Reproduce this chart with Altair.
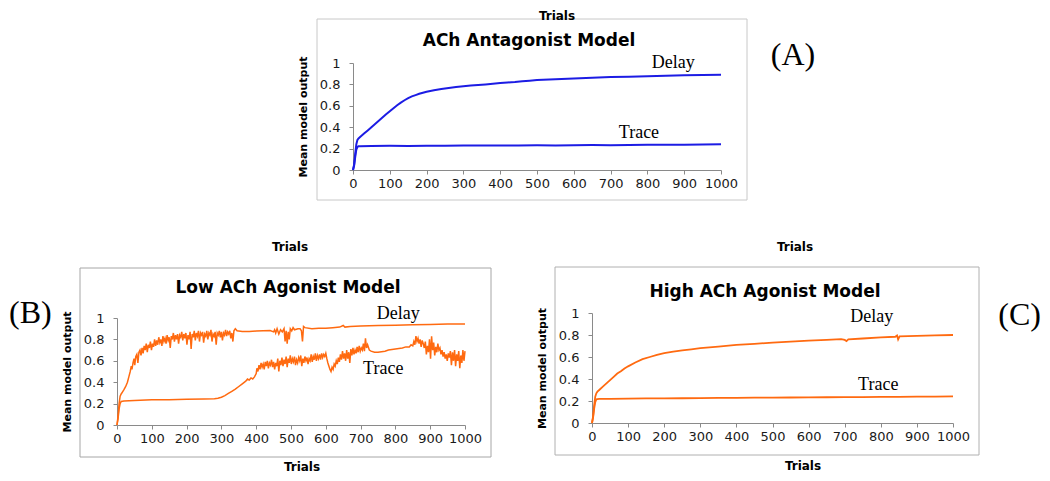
import altair as alt
import pandas as pd

W, H = 1034, 465

# ---------------- data (trial, mean model output) ----------------
a_delay = [(0,0.0),(3,0.05),(6,0.15),(9,0.24),(12,0.28),(15,0.295),(20,0.31),(30,0.34),(40,0.37),
           (50,0.40),(60,0.43),(70,0.46),(80,0.49),(90,0.52),(100,0.55),(110,0.578),(120,0.605),
           (130,0.63),(140,0.652),(150,0.672),(160,0.688),(170,0.70),(180,0.712),(190,0.722),
           (200,0.732),(220,0.746),(240,0.757),(260,0.766),(280,0.775),(300,0.782),(320,0.789),
           (340,0.795),(360,0.80),(380,0.806),(400,0.812),(420,0.818),(440,0.823),(460,0.83),
           (480,0.835),(500,0.84),(550,0.848),(600,0.855),(650,0.862),(700,0.868),(750,0.872),
           (800,0.877),(850,0.881),(900,0.885),(950,0.888),(1000,0.89)]
a_trace = [(0,0.0),(3,0.04),(6,0.12),(9,0.19),(12,0.215),(15,0.222),(20,0.223),(50,0.224),
           (100,0.226),(150,0.225),(200,0.227),(250,0.226),(300,0.228),(350,0.229),(400,0.228),
           (450,0.230),(500,0.231),(550,0.230),(600,0.232),(650,0.233),(700,0.232),(750,0.234),
           (800,0.235),(850,0.236),(900,0.237),(950,0.238),(1000,0.240)]

b_delay = [(0,0.0),(3,0.08),(6,0.2),(9,0.27),(12,0.29),(16,0.31),(20,0.33),(25,0.36),(30,0.40),
           (34,0.45),(38,0.50),(41,0.55),(43,0.52),(46,0.58),(49,0.62),(51,0.56),(54,0.64),(57,0.66),
           (60,0.58),(63,0.68),(66,0.70),(69,0.65),(72,0.72),(75,0.67),(78,0.74),(81,0.70),(84,0.76),
           (87,0.68),(90,0.75),(93,0.72),(96,0.78),(99,0.70),(102,0.76),(105,0.73),(108,0.80),
           (111,0.74),(114,0.79),(117,0.75),(120,0.82),(123,0.77),(126,0.80),(129,0.74),(132,0.83),
           (135,0.78),(138,0.81),(141,0.76),(144,0.84),(147,0.79),(150,0.82),(153,0.72),(156,0.83),
           (159,0.80),(162,0.86),(165,0.78),(168,0.84),(171,0.80),(174,0.85),(177,0.76),(180,0.84),
           (183,0.82),(186,0.87),(189,0.79),(192,0.85),(195,0.81),(198,0.86),(201,0.75),(204,0.84),
           (207,0.80),(210,0.87),(213,0.71),(216,0.85),(219,0.82),(222,0.88),(225,0.79),(228,0.86),
           (231,0.83),(234,0.88),(237,0.78),(240,0.86),(243,0.84),(246,0.87),(249,0.77),(252,0.85),
           (255,0.83),(258,0.88),(261,0.80),(264,0.86),(267,0.84),(270,0.89),(273,0.78),(276,0.85),
           (279,0.83),(282,0.87),(285,0.75),(288,0.86),(291,0.84),(294,0.88),(297,0.82),(300,0.87),
           (303,0.79),(306,0.86),(309,0.84),(312,0.89),(315,0.83),(318,0.87),(321,0.85),(324,0.88),
           (327,0.81),(330,0.86),(333,0.78),(336,0.88),(340,0.90),(345,0.88),(360,0.875),(380,0.875),
           (400,0.878),(420,0.88),(440,0.882),(450,0.87),(453,0.89),(456,0.86),(460,0.90),(465,0.85),
           (470,0.89),(475,0.87),(480,0.90),(483,0.78),(486,0.88),(489,0.76),(492,0.87),(495,0.80),
           (498,0.90),(502,0.88),(506,0.91),(510,0.89),(520,0.90),(526,0.90),(530,0.88),(533,0.78),
           (536,0.92),(540,0.91),(560,0.90),(580,0.905),(600,0.905),(620,0.91),(640,0.915),(650,0.93),
           (655,0.915),(670,0.92),(700,0.925),(750,0.93),(800,0.933),(850,0.937),(900,0.94),
           (950,0.943),(1000,0.945)]
b_trace = [(0,0.0),(3,0.06),(6,0.15),(9,0.20),(12,0.22),(20,0.225),(50,0.23),(100,0.235),(150,0.237),
           (200,0.24),(250,0.242),(280,0.245),(290,0.25),(300,0.26),(310,0.275),(320,0.295),(330,0.315),
           (340,0.335),(350,0.36),(360,0.385),(370,0.41),(375,0.43),(380,0.42),(385,0.44),(390,0.43),
           (395,0.45),(400,0.48),(402,0.53),(405,0.50),(408,0.56),(411,0.52),(414,0.58),(417,0.54),
           (420,0.57),(423,0.52),(426,0.59),(429,0.55),(432,0.60),(435,0.53),(438,0.58),(441,0.56),
           (444,0.61),(447,0.54),(450,0.59),(453,0.52),(456,0.58),(459,0.55),(462,0.62),(465,0.50),
           (468,0.60),(471,0.56),(474,0.63),(477,0.55),(480,0.61),(483,0.57),(486,0.64),(489,0.54),
           (492,0.62),(495,0.58),(498,0.65),(501,0.57),(504,0.62),(507,0.59),(510,0.64),(513,0.56),
           (516,0.61),(519,0.58),(522,0.63),(525,0.60),(528,0.65),(531,0.55),(534,0.62),(537,0.58),
           (540,0.64),(543,0.60),(546,0.63),(549,0.57),(552,0.62),(555,0.60),(558,0.66),(561,0.59),
           (564,0.64),(567,0.61),(570,0.67),(573,0.60),(576,0.65),(579,0.62),(582,0.66),(585,0.61),
           (588,0.67),(591,0.63),(594,0.66),(597,0.64),(600,0.67),(603,0.62),(606,0.58),(609,0.55),
           (612,0.52),(615,0.50),(618,0.54),(621,0.52),(624,0.57),(627,0.55),(630,0.60),(633,0.57),
           (636,0.63),(639,0.59),(642,0.66),(645,0.61),(648,0.69),(651,0.62),(654,0.67),(657,0.60),
           (660,0.70),(663,0.62),(666,0.68),(669,0.58),(672,0.71),(675,0.65),(678,0.72),(681,0.66),
           (684,0.70),(687,0.67),(690,0.73),(693,0.68),(696,0.74),(699,0.69),(702,0.72),(705,0.70),
           (708,0.76),(711,0.69),(714,0.81),(717,0.72),(720,0.75),(725,0.70),(730,0.69),(740,0.68),
           (750,0.68),(760,0.685),(770,0.69),(780,0.70),(790,0.705),(800,0.71),(810,0.715),(820,0.72),
           (830,0.73),(840,0.73),(845,0.75),(850,0.74),(853,0.78),(856,0.75),(859,0.83),(862,0.78),
           (865,0.81),(868,0.76),(871,0.80),(874,0.73),(877,0.79),(880,0.76),(883,0.72),(886,0.78),
           (889,0.66),(892,0.74),(895,0.68),(898,0.80),(901,0.62),(904,0.83),(907,0.70),(910,0.77),
           (913,0.65),(916,0.73),(919,0.68),(922,0.76),(925,0.70),(928,0.72),(931,0.66),(934,0.70),
           (937,0.64),(940,0.68),(943,0.62),(946,0.66),(949,0.60),(952,0.67),(955,0.63),(958,0.69),
           (961,0.56),(964,0.68),(967,0.60),(970,0.70),(973,0.55),(976,0.66),(979,0.60),(982,0.69),
           (985,0.53),(988,0.65),(991,0.58),(994,0.70),(997,0.60),(1000,0.69)]

c_delay = [(0,0.0),(3,0.06),(6,0.16),(9,0.24),(12,0.27),(15,0.285),(20,0.30),(30,0.33),(40,0.36),
           (50,0.39),(60,0.42),(70,0.45),(80,0.47),(90,0.495),(100,0.515),(120,0.55),(140,0.58),
           (160,0.60),(180,0.62),(200,0.635),(225,0.648),(250,0.66),(275,0.67),(300,0.68),(350,0.695),
           (400,0.71),(450,0.72),(500,0.73),(550,0.74),(600,0.748),(650,0.756),(690,0.762),(700,0.755),
           (705,0.745),(710,0.76),(750,0.768),(800,0.778),(840,0.784),(845,0.795),(848,0.76),
           (852,0.787),(900,0.792),(950,0.797),(1000,0.80)]
c_trace = [(0,0.0),(3,0.05),(6,0.13),(9,0.19),(12,0.215),(15,0.218),(20,0.219),(50,0.220),
           (100,0.222),(150,0.223),(200,0.224),(250,0.225),(300,0.226),(350,0.228),(400,0.229),
           (450,0.230),(500,0.231),(550,0.232),(600,0.233),(650,0.234),(700,0.235),(750,0.236),
           (800,0.237),(850,0.238),(900,0.239),(950,0.240),(1000,0.242)]

x_ticks = [0, 100, 200, 300, 400, 500, 600, 700, 800, 900, 1000]
y_ticks = [0, 0.2, 0.4, 0.6, 0.8, 1]
series_names = ["Delay", "Trace"]
panel_titles = ["ACh Antagonist Model", "Low ACh Agonist Model", "High ACh Agonist Model"]
panel_tags = ["(A)", "(B)", "(C)"]
# annotation anchors (trial, value) for the series names
a_label_pos = [(870, 0.949), (777, 0.296)]
b_label_pos = [(808, 0.988), (765, 0.477)]
c_label_pos = [(775, 0.918), (793, 0.300)]

BLUE = "#1c1ce4"
ORANGE = "#ff6a10"
SANS = "DejaVu Sans"
SERIF = "Liberation Serif"


def long_df(delay, trace):
    rows = [{"trial": t, "value": v, "series": "Delay"} for t, v in delay]
    rows += [{"trial": t, "value": v, "series": "Trace"} for t, v in trace]
    return pd.DataFrame(rows)


def panel(delay, trace, label_pos, color, xr, yr, width):
    xs = alt.Scale(domain=[0, 1000], range=xr, nice=False, zero=False)
    ys = alt.Scale(domain=[0, 1], range=yr, nice=False)
    xaxis = alt.Axis(orient="bottom", offset=yr[0] - H, values=x_ticks, format="d", title=None,
                     grid=False, domainColor="#8a8a8a", tickColor="#8a8a8a", tickSize=4,
                     labelFont=SANS, labelFontSize=13, labelColor="#1a1a1a", labelPadding=3,
                     labelFlush=False, labelOverlap=False)
    yaxis = alt.Axis(orient="left", offset=-xr[0], values=y_ticks, format="~g",
                     title="Mean model output", titleFont=SANS, titleFontSize=11,
                     titleFontWeight="bold", titleColor="#000", titleX=-50, titleBaseline="middle",
                     grid=False, domainColor="#8a8a8a", tickColor="#8a8a8a", tickSize=4,
                     labelFont=SANS, labelFontSize=13, labelColor="#1a1a1a", labelPadding=9)
    lines = alt.Chart(long_df(delay, trace)).mark_line(strokeWidth=width, color=color).encode(
        x=alt.X("trial:Q", scale=xs, axis=xaxis),
        y=alt.Y("value:Q", scale=ys, axis=yaxis),
        detail="series:N",
    )
    lab_df = pd.DataFrame({"trial": [p[0] for p in label_pos],
                           "value": [p[1] for p in label_pos],
                           "name": series_names})
    labels = alt.Chart(lab_df).mark_text(font=SERIF, fontSize=18, color="#000",
                                         align="center", baseline="alphabetic").encode(
        x=alt.X("trial:Q", scale=xs, axis=xaxis),
        y=alt.Y("value:Q", scale=ys, axis=yaxis),
        text="name:N",
    )
    return alt.layer(lines, labels)


one = pd.DataFrame({"k": [0]})


def txt(s, x, y, **kw):
    return alt.Chart(one).mark_text(text=s, **kw).encode(x=alt.value(x), y=alt.value(y))


def frame(x1, x2, y1, y2, col):
    return alt.Chart(one).mark_rect(fill=None, stroke=col, strokeWidth=1).encode(
        x=alt.value(x1), x2=alt.value(x2), y=alt.value(y1), y2=alt.value(y2))


pA = panel(a_delay, a_trace, a_label_pos, BLUE, [345, 713], [162, 55], 2)
pB = panel(b_delay, b_trace, b_label_pos, ORANGE, [109, 457], [417, 310], 1.5)
pC = panel(c_delay, c_trace, c_label_pos, ORANGE, [584, 945], [415, 305], 1.8)

bold = dict(font=SANS, fontWeight="bold", color="#000", align="center")
decor = [
    frame(309, 739, 11, 192, "#c8c8c8"),
    frame(72, 483, 260, 449, "#a6a6a6"),
    frame(547, 971, 259, 447, "#b0b0b0"),
    txt("Trials", 549, 8, fontSize=12, baseline="middle", **bold),
    txt("Trials", 282, 239, fontSize=12, baseline="middle", **bold),
    txt("Trials", 787, 239, fontSize=12, baseline="middle", **bold),
    txt("Trials", 294, 459, fontSize=12, baseline="middle", **bold),
    txt("Trials", 795, 458, fontSize=12, baseline="middle", **bold),
    txt(panel_titles[0], 521, 33, fontSize=17, baseline="middle", **bold),
    txt(panel_titles[1], 280, 280, fontSize=17, baseline="middle", **bold),
    txt(panel_titles[2], 757, 284, fontSize=17, baseline="middle", **bold),
    txt(panel_tags[0], 785, 47, font=SERIF, fontSize=32, color="#000", align="center", baseline="middle"),
    txt(panel_tags[1], 1, 305, font=SERIF, fontSize=32, color="#000", align="left", baseline="middle"),
    txt(panel_tags[2], W - 1, 307, font=SERIF, fontSize=32, color="#000", align="right", baseline="middle"),
]

chart = alt.layer(pA, pB, pC, *decor).resolve_scale(
    x="independent", y="independent"
).properties(
    width=W, height=H, autosize=alt.AutoSizeParams(type="none"), padding=0
).configure_view(stroke=None)

chart.save("out.html", embed_options={"renderer": "svg", "actions": False})
